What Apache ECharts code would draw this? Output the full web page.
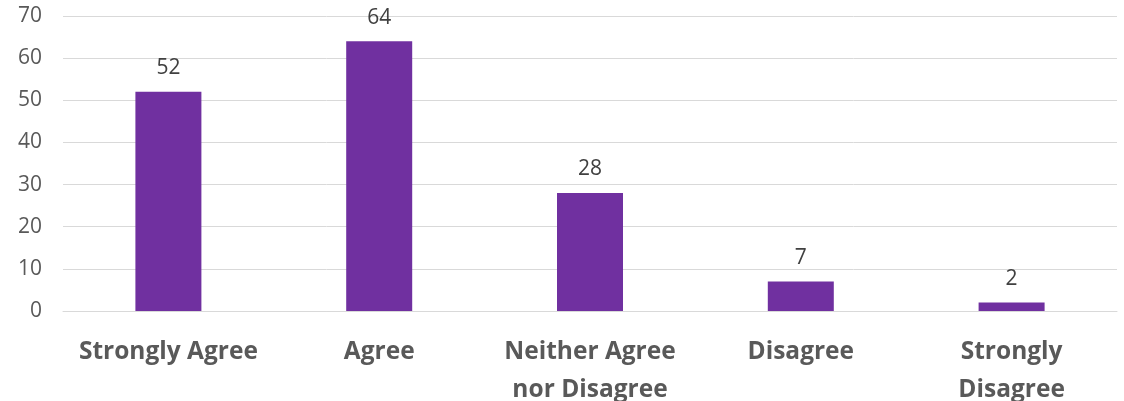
<!DOCTYPE html>
<html>
<head>
<meta charset="utf-8">
<script src="https://cdn.jsdelivr.net/npm/echarts@6/dist/echarts.min.js"></script>
<style>html,body{margin:0;padding:0;background:#fff;}#c{width:1124px;height:401px;}</style>
</head>
<body>
<div id="c"></div>
<script>
const categories = ["Strongly Agree", "Agree", "Neither Agree\nnor Disagree", "Disagree", "Strongly\nDisagree"];
const values = [52, 64, 28, 7, 2];
const yTicks = { min: 0, max: 70, interval: 10 };

const chart = echarts.init(document.getElementById('c'), null, { renderer: 'canvas' });
chart.setOption({
  animation: false,
  grid: { left: 63, right: 7, top: 16, bottom: 90, containLabel: false, outerBoundsMode: 'none' },
  xAxis: {
    type: 'category',
    data: categories,
    axisLine: { show: true, lineStyle: { color: '#d9d9d9', width: 1 } },
    axisTick: { show: false },
    axisLabel: {
      color: '#595959', fontFamily: 'Open Sans', fontWeight: 'bold', fontSize: 24.5,
      margin: 22, lineHeight: 38, interval: 0
    }
  },
  yAxis: {
    type: 'value', min: yTicks.min, max: yTicks.max, interval: yTicks.interval,
    axisLine: { show: false }, axisTick: { show: false },
    splitLine: { lineStyle: { color: '#d9d9d9', width: 1 } },
    axisLabel: { color: '#595959', fontFamily: 'Open Sans', fontSize: 21, margin: 21 }
  },
  series: [{
    type: 'bar',
    data: values,
    barWidth: 66,
    itemStyle: { color: '#7030A0' },
    label: { show: true, position: 'top', distance: 13, color: '#404040', fontFamily: 'Open Sans', fontSize: 21 }
  }]
});
</script>
</body>
</html>
